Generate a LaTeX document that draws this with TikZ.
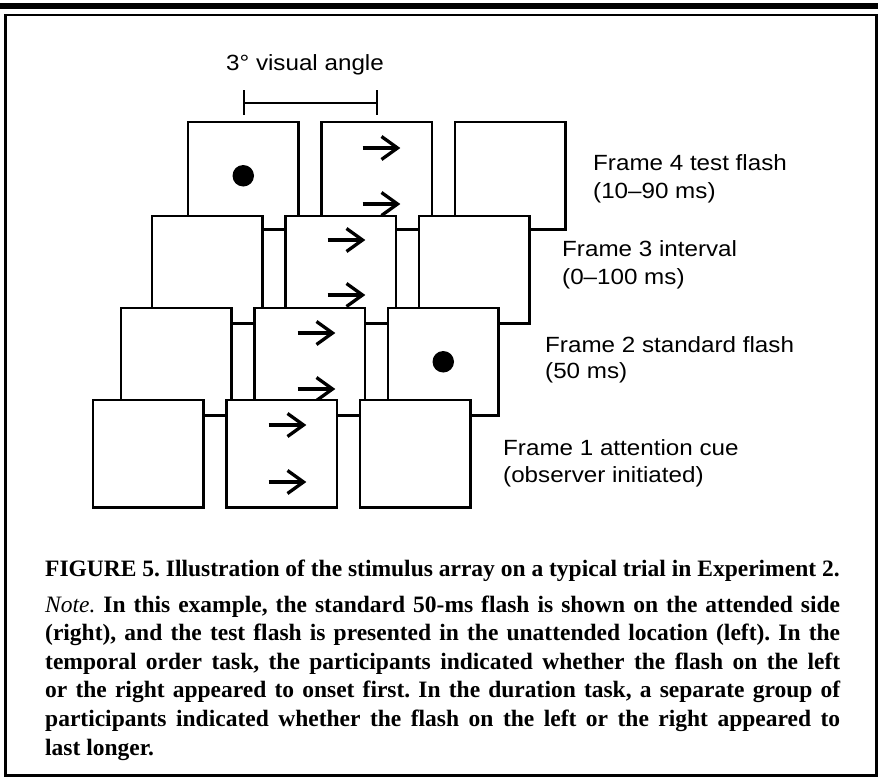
\documentclass[tikz,border=0pt]{standalone}
\usepackage{fontspec}
\newfontfamily\labelfont[FakeStretch=1.1]{Liberation Sans}
\newfontfamily\capfont{Liberation Serif}
\begin{document}
\frenchspacing
\begin{tikzpicture}[x=1pt, y=-1pt,
  frame box/.style={draw, fill=white, line width=2.2pt, minimum width=110.5pt,
    minimum height=107.5pt, inner sep=0pt, outer sep=0pt, anchor=north west},
  flash dot/.style={circle, fill=black, minimum size=21.5pt, inner sep=0pt},
  cue arrow/.pic={
    \draw[line width=3.3pt] (0,0) -- (35,0);
    \draw[line width=3.3pt, line join=miter, miter limit=10] (19,-11.5) -- (35,0) -- (19,11.5);},
  lab/.style={font=\labelfont\fontsize{22}{28}\selectfont, inner sep=0pt, anchor=base west},
  capt/.style={font=\capfont\bfseries\fontsize{23.5}{28.6}\selectfont, inner sep=0pt, anchor=base west},
  rulebar/.style={line width=2.2pt}]
\useasboundingbox (0,0) rectangle (878,782);
\fill[white] (0,0) rectangle (878,782);

% page rule and figure frame
\fill[black] (0,2.5) rectangle (878,9);
\draw[line width=2.2pt] (5.5,15) rectangle (876.5,775.5);

% scale bar
\node[font=\labelfont\fontsize{22}{28}\selectfont, inner sep=0pt, anchor=base] (angle) at (305,70) {3° visual angle};
\coordinate (sbL) at (244,103);
\coordinate (sbR) at (377,103);
\draw[rulebar] (sbL) -- (sbR);
\draw[rulebar] ([yshift=13pt]sbL) -- ([yshift=-12pt]sbL);
\draw[rulebar] ([yshift=13pt]sbR) -- ([yshift=-12pt]sbR);

% frame 4 (back)
\node[frame box] (s40) at (188,122) {};
\node[frame box] (s41) at (321.5,122) {};
\node[frame box] (s42) at (455,122) {};
\node[flash dot] (d4) at (s40.center) {};
\pic at ([shift={(41,26)}]s41.north west) {cue arrow};
\pic at ([shift={(41,82)}]s41.north west) {cue arrow};

% frame 3
\node[frame box] (s30) at (152,216) {};
\node[frame box] (s31) at (285.5,216) {};
\node[frame box] (s32) at (419,216) {};
\pic at ([shift={(42,24)}]s31.north west) {cue arrow};
\pic at ([shift={(42,79)}]s31.north west) {cue arrow};

% frame 2
\node[frame box] (s20) at (121,308) {};
\node[frame box] (s21) at (254.5,308) {};
\node[frame box] (s22) at (388,308) {};
\node[flash dot] (d2) at (s22.center) {};
\pic at ([shift={(43,25)}]s21.north west) {cue arrow};
\pic at ([shift={(43,81)}]s21.north west) {cue arrow};

% frame 1 (front)
\node[frame box] (s10) at (93,400) {};
\node[frame box] (s11) at (226.5,400) {};
\node[frame box] (s12) at (360,400) {};
\pic at ([shift={(42,25)}]s11.north west) {cue arrow};
\pic at ([shift={(42,82)}]s11.north west) {cue arrow};

% frame labels
\node[lab] (f4a) at (593,170) {Frame 4 test flash};
\node[lab] (f4b) at (593,198) {(10–90 ms)};
\node[lab] (f3a) at (562,256) {Frame 3 interval};
\node[lab] (f3b) at (562,284) {(0–100 ms)};
\node[lab] (f2a) at (545,352) {Frame 2 standard flash};
\node[lab] (f2b) at (545,378) {(50 ms)};
\node[lab] (f1a) at (503,455) {Frame 1 attention cue};
\node[lab] (f1b) at (503,482) {(observer initiated)};

% caption
\node[capt] (title) at (45,576) {FIGURE 5. Illustration of the stimulus array on a typical trial in Experiment 2.};
\node[capt] (note) at (45,612) {\parbox[t]{795pt}{%
\makebox[795pt][s]{{\mdseries\itshape Note.} In this example, the standard 50-ms flash is shown on the attended side}\\
\makebox[795pt][s]{(right), and the test flash is presented in the unattended location (left). In the}\\
\makebox[795pt][s]{temporal order task, the participants indicated whether the flash on the left}\\
\makebox[795pt][s]{or the right appeared to onset first. In the duration task, a separate group of}\\
\makebox[795pt][s]{participants indicated whether the flash on the left or the right appeared to}\\
\makebox[795pt][l]{last longer.}}};
\end{tikzpicture}
\end{document}
